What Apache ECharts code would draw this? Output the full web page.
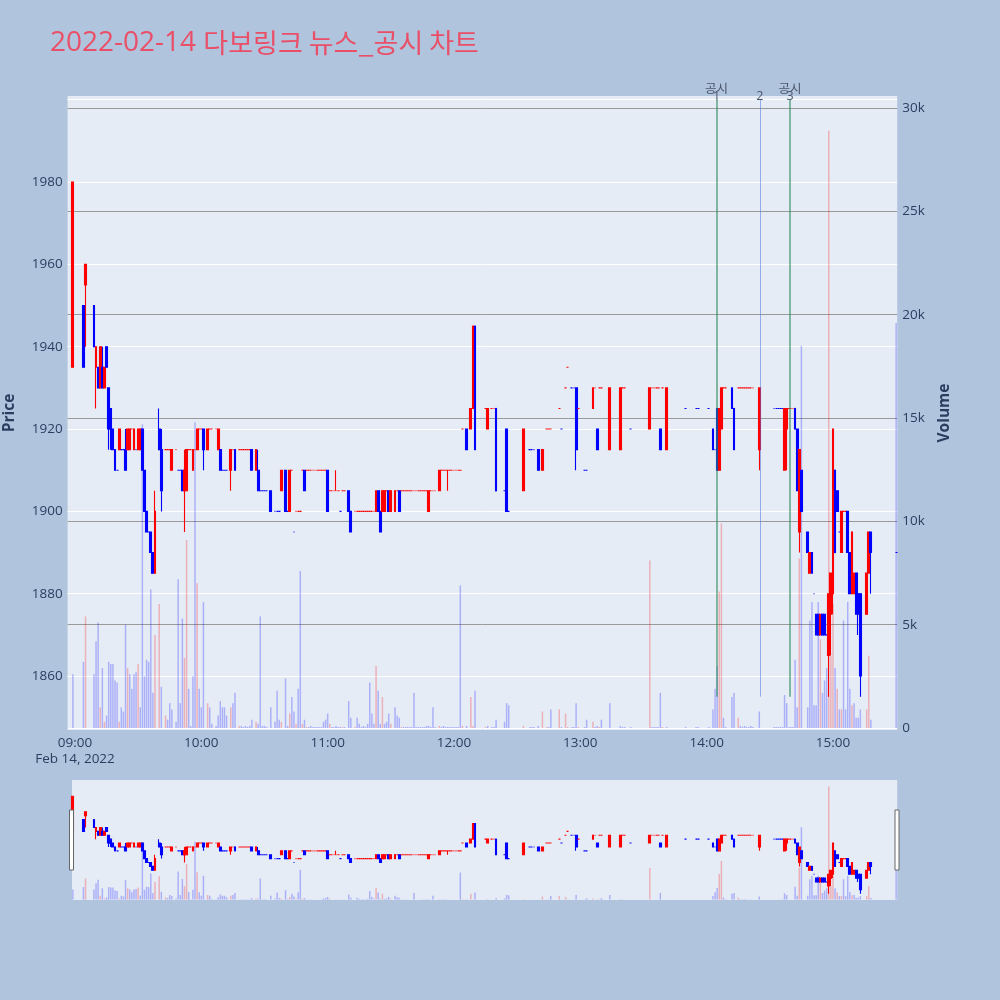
<!DOCTYPE html>
<html><head><meta charset="utf-8">
<script src="https://cdn.jsdelivr.net/npm/echarts@6/dist/echarts.min.js"></script>
<style>html,body{margin:0;padding:0;background:#B0C4DE;}#c{width:1000px;height:1000px;}</style>
</head><body><div id="c"></div>
<script>
// minutes after 09:00 for each 1-minute candle
const minuteAfterOpen = [
-1,4,5,9,10,11,12,13,14,15,
16,17,18,19,20,21,22,23,24,25,
26,27,28,29,30,31,32,33,34,35,
36,37,38,40,41,43,44,45,46,48,
49,50,51,52,53,54,55,56,57,58,
59,60,61,63,64,65,67,68,69,70,
71,72,74,75,76,78,79,80,81,82,
83,84,86,87,88,89,90,91,93,95,
96,97,98,100,101,102,103,104,105,106,
107,108,109,110,111,112,113,114,115,116,
117,118,119,120,121,122,123,124,125,126,
127,128,130,131,133,134,135,136,137,138,
139,140,141,142,143,144,145,146,147,148,
149,150,152,153,154,155,156,157,158,159,
160,161,162,163,164,165,166,167,168,169,
170,171,173,174,175,176,177,178,179,180,
181,182,183,184,186,188,189,190,195,196,
198,199,200,204,205,206,213,216,217,218,
220,222,224,225,226,230,231,233,234,236,
237,238,239,242,243,246,247,248,249,250,
254,259,260,261,264,273,274,275,276,277,
278,279,281,290,295,296,301,303,304,305,
306,307,308,309,312,313,315,316,317,318,
319,320,321,322,325,332,333,334,335,336,
337,338,339,340,341,342,343,344,345,348,
349,350,351,352,353,354,355,356,357,358,
359,360,361,362,363,364,365,366,367,368,
369,370,371,372,373,376,377,378,390];
const opens = [
1935,1950,1955,1950,1935,1935,1930,1935,1930,1940,
1930,1925,1920,1915,1910,1915,1915,1915,1915,1915,
1915,1920,1915,1915,1915,1915,1920,1910,1900,1895,
1895,1890,1885,1920,1915,1915,1915,1915,1910,1915,
1910,1910,1910,1905,1905,1915,1915,1910,1915,1915,
1920,1920,1920,1915,1920,1920,1920,1915,1915,1910,
1910,1910,1910,1915,1915,1915,1915,1915,1915,1915,
1915,1915,1910,1910,1905,1905,1905,1905,1905,1900,
1900,1900,1905,1910,1900,1900,1910,1895,1900,1900,
1900,1910,1910,1910,1910,1910,1910,1910,1910,1910,
1910,1910,1910,1910,1905,1905,1905,1905,1905,1900,
1905,1905,1905,1900,1900,1900,1900,1900,1900,1900,
1900,1900,1900,1900,1900,1905,1900,1900,1900,1905,
1905,1900,1900,1905,1905,1905,1905,1905,1905,1905,
1905,1905,1905,1905,1905,1905,1905,1905,1900,1905,
1905,1905,1905,1910,1910,1910,1910,1910,1910,1910,
1910,1910,1910,1920,1920,1920,1925,1945,1925,1920,
1925,1925,1925,1905,1920,1900,1905,1915,1915,1915,
1915,1910,1920,1920,1920,1925,1920,1930,1935,1930,
1930,1930,1925,1910,1910,1925,1930,1920,1930,1930,
1915,1915,1930,1930,1920,1920,1930,1930,1930,1930,
1920,1930,1915,1925,1925,1925,1925,1920,1915,1925,
1910,1920,1930,1930,1930,1925,1930,1930,1930,1930,
1930,1930,1930,1930,1915,1925,1925,1925,1925,1925,
1910,1920,1925,1925,1925,1925,1920,1895,1910,1895,
1885,1890,1880,1875,1875,1870,1875,1875,1870,1865,
1875,1880,1910,1905,1895,1890,1900,1900,1900,1890,
1880,1880,1885,1880,1880,1875,1885,1895,1890];
const highs = [
1980,1950,1960,1950,1940,1935,1940,1940,1935,1940,
1930,1925,1920,1915,1910,1920,1915,1915,1920,1920,
1920,1920,1920,1915,1920,1920,1920,1910,1900,1895,
1895,1890,1905,1925,1920,1915,1915,1915,1915,1915,
1910,1910,1910,1915,1915,1915,1915,1915,1915,1920,
1920,1920,1920,1920,1920,1920,1920,1920,1915,1910,
1910,1910,1915,1915,1915,1915,1915,1915,1915,1915,
1915,1915,1915,1915,1905,1905,1905,1905,1905,1900,
1900,1900,1910,1910,1900,1910,1910,1895,1900,1900,
1900,1910,1910,1910,1910,1910,1910,1910,1910,1910,
1910,1910,1910,1910,1905,1905,1905,1910,1905,1900,
1905,1905,1905,1900,1900,1900,1900,1900,1900,1900,
1900,1900,1900,1900,1905,1905,1900,1905,1905,1905,
1905,1905,1905,1905,1905,1905,1905,1905,1905,1905,
1905,1905,1905,1905,1905,1905,1905,1905,1905,1905,
1905,1905,1910,1910,1910,1910,1910,1910,1910,1910,
1910,1910,1910,1920,1920,1925,1945,1945,1925,1925,
1925,1925,1925,1905,1920,1900,1920,1915,1915,1915,
1915,1915,1920,1920,1920,1925,1920,1930,1935,1930,
1930,1930,1925,1910,1910,1930,1930,1920,1930,1930,
1930,1930,1930,1930,1920,1930,1930,1930,1930,1930,
1920,1930,1930,1925,1925,1925,1925,1920,1915,1925,
1925,1930,1930,1930,1930,1925,1930,1930,1930,1930,
1930,1930,1930,1930,1930,1925,1925,1925,1925,1925,
1925,1925,1925,1925,1925,1925,1920,1915,1910,1895,
1890,1890,1880,1875,1875,1875,1875,1875,1870,1880,
1885,1920,1910,1905,1895,1900,1900,1900,1900,1890,
1895,1885,1885,1880,1880,1885,1895,1895,1890];
const lows = [
1935,1935,1940,1940,1925,1930,1930,1930,1930,1935,
1915,1915,1915,1910,1910,1915,1915,1915,1910,1915,
1915,1920,1915,1915,1915,1915,1910,1900,1895,1895,
1890,1885,1885,1915,1900,1915,1915,1915,1910,1915,
1910,1910,1905,1895,1905,1915,1915,1910,1915,1915,
1920,1920,1910,1915,1920,1920,1920,1915,1910,1910,
1910,1910,1905,1915,1910,1915,1915,1915,1915,1915,
1915,1910,1910,1905,1905,1905,1905,1905,1900,1900,
1900,1900,1905,1900,1900,1900,1910,1895,1900,1900,
1900,1910,1905,1910,1910,1910,1910,1910,1910,1910,
1910,1910,1910,1900,1905,1905,1905,1905,1905,1900,
1905,1905,1900,1895,1900,1900,1900,1900,1900,1900,
1900,1900,1900,1900,1900,1900,1895,1900,1900,1905,
1900,1900,1900,1905,1900,1905,1905,1905,1905,1905,
1905,1905,1905,1905,1905,1905,1905,1905,1900,1905,
1905,1905,1905,1910,1910,1910,1905,1910,1910,1910,
1910,1910,1910,1920,1915,1920,1925,1915,1925,1920,
1925,1925,1905,1905,1900,1900,1905,1915,1915,1915,
1910,1910,1920,1920,1920,1925,1920,1930,1935,1930,
1930,1910,1925,1910,1910,1925,1930,1915,1930,1930,
1915,1915,1930,1930,1920,1920,1930,1930,1930,1930,
1915,1930,1915,1925,1925,1925,1925,1915,1915,1910,
1910,1920,1930,1930,1925,1915,1930,1930,1930,1930,
1930,1930,1930,1930,1910,1925,1925,1925,1925,1925,
1910,1910,1925,1925,1925,1920,1905,1890,1900,1890,
1885,1885,1880,1870,1870,1870,1870,1870,1870,1855,
1865,1875,1890,1900,1895,1890,1900,1900,1890,1880,
1880,1880,1875,1870,1855,1875,1885,1880,1890];
const closes = [
1980,1935,1960,1940,1940,1930,1940,1930,1935,1935,
1920,1920,1915,1910,1910,1920,1915,1915,1910,1920,
1920,1920,1920,1915,1920,1920,1910,1900,1895,1895,
1890,1885,1900,1915,1905,1915,1915,1915,1915,1915,
1910,1910,1905,1910,1915,1915,1915,1915,1915,1920,
1920,1920,1915,1920,1920,1920,1920,1920,1910,1910,
1910,1910,1915,1915,1910,1915,1915,1915,1915,1915,
1915,1910,1915,1905,1905,1905,1905,1905,1900,1900,
1900,1900,1910,1900,1900,1910,1910,1895,1900,1900,
1900,1910,1905,1910,1910,1910,1910,1910,1910,1910,
1910,1910,1910,1900,1905,1905,1905,1905,1905,1900,
1905,1905,1900,1895,1900,1900,1900,1900,1900,1900,
1900,1900,1900,1900,1905,1900,1895,1905,1905,1905,
1900,1905,1905,1905,1900,1905,1905,1905,1905,1905,
1905,1905,1905,1905,1905,1905,1905,1905,1905,1905,
1905,1905,1910,1910,1910,1910,1910,1910,1910,1910,
1910,1910,1910,1920,1915,1925,1945,1915,1925,1925,
1925,1925,1905,1905,1900,1900,1920,1915,1915,1915,
1910,1915,1920,1920,1920,1925,1920,1930,1935,1930,
1930,1915,1925,1910,1910,1930,1930,1915,1930,1930,
1930,1930,1930,1930,1920,1930,1930,1930,1930,1930,
1915,1930,1930,1925,1925,1925,1925,1915,1915,1910,
1925,1930,1930,1930,1925,1915,1930,1930,1930,1930,
1930,1930,1930,1930,1930,1925,1925,1925,1925,1925,
1925,1925,1925,1925,1925,1920,1905,1915,1900,1890,
1890,1885,1880,1870,1870,1875,1870,1870,1870,1880,
1885,1920,1890,1900,1895,1900,1900,1900,1890,1880,
1895,1885,1875,1875,1860,1885,1895,1890,1890];
const volumes = [
2600,3200,5400,2600,4200,5100,1000,2900,300,600,
3200,3100,3100,2300,2200,300,1000,800,5000,2900,
2600,1900,2600,2700,3100,1000,14700,2500,3300,3200,
6700,1700,4500,6000,2000,600,400,1200,900,300,
7200,1200,5300,3400,9100,1900,100,2500,14800,7000,
1900,1000,6100,1200,1000,200,100,600,1300,1000,
1000,600,1000,1200,1700,100,100,50,100,50,
100,400,300,200,5400,100,100,50,1000,300,
1800,400,300,2400,100,700,1500,800,200,1900,
7600,200,400,50,50,100,50,50,50,50,
50,300,400,700,200,50,50,100,50,50,
50,50,1300,500,50,500,200,50,100,50,
200,2200,700,200,3000,1800,200,1500,200,300,
700,200,1000,600,500,50,50,50,50,50,
50,1700,50,50,50,50,50,100,100,50,
1000,50,100,50,100,50,50,50,50,50,
50,50,6900,100,100,1500,100,1800,50,100,
50,50,400,300,1200,1100,100,50,50,50,
100,800,50,50,900,900,50,700,50,50,
50,1200,50,50,400,300,50,100,50,400,
1200,100,50,50,50,8100,50,50,50,50,
1700,50,50,50,50,50,50,900,1900,3000,
6600,9900,500,50,1500,1700,500,100,50,100,
50,50,100,50,800,50,50,50,50,50,
1600,1200,50,50,50,3300,1000,8200,18500,1000,
5200,6100,1100,1100,6100,4300,1700,2300,2900,28900,
3500,6000,2900,1900,900,900,5200,900,6100,1900,
1100,1200,500,500,900,900,3500,400,19600];

// news / disclosure events (vertical lines)
const eventTimes  = ['14:04:42', '14:25:18', '14:39:36'];
const eventKinds  = ['공시', '뉴스', '공시'];
const eventTitles = ['공시', '', '공시'];
const eventNumbers = ['1', '2', '3'];
const eventLineLow = 1855, eventLineHigh = 2000;

const hourTicks = [0, 60, 120, 180, 240, 300, 360];
const titleDate = '2022-02-14 ';
const titleName = '다보링크 뉴스_공시 차트';

const UP = '#ff0000', DOWN = '#0000ff';
const VOL_UP = 'rgba(255,0,0,0.25)', VOL_DOWN = 'rgba(0,0,255,0.25)';
const FONT = '"Open Sans", "Noto Sans CJK KR", sans-serif';
const TICK = '#2a3f5f';
const TICK_SIZE = 13.5;

function toMinutes(s) { const p = s.split(':').map(Number); return (p[0] - 9) * 60 + p[1] + (p[2] || 0) / 60; }
function hhmm(v) { const t = Math.round(v); const h = 9 + Math.floor(t / 60); const m = ((t % 60) + 60) % 60; return String(h).padStart(2, '0') + ':' + String(m).padStart(2, '0'); }

const candleData = [], volData = [];
let inc = true, prevC = null;
for (let i = 0; i < minuteAfterOpen.length; i++) {
  const o = opens[i], c = closes[i];
  if (c !== o) inc = c > o; else if (prevC !== null && c !== prevC) inc = c > prevC;
  const col = inc ? UP : DOWN;
  candleData.push({ value: [minuteAfterOpen[i], o, c, lows[i], highs[i]],
    itemStyle: { color: col, color0: col, borderColor: col, borderColor0: col } });
  const vUp = prevC !== null && c > prevC;
  volData.push({ value: [minuteAfterOpen[i], volumes[i]], itemStyle: { color: vUp ? VOL_UP : VOL_DOWN } });
  prevC = c;
}

const eventLines = eventTimes.map((t, i) => {
  const x = toMinutes(t);
  const green = eventKinds[i] === '공시';
  const txt = (eventTitles[i] ? '{t|' + eventTitles[i] + '}\n' : '') + '{n|' + eventNumbers[i] + '}';
  return [
    { coord: [x, eventLineLow], lineStyle: { color: green ? 'rgba(46,139,87,0.55)' : 'rgba(65,105,225,0.5)', width: green ? 2 : 1, type: 'solid' },
      label: { show: true, position: 'end', distance: -0.5, formatter: txt,
        rich: { t: { fontSize: 12.5, lineHeight: 7, color: '#4a5568', fontFamily: FONT }, n: { fontSize: 12.5, lineHeight: 7, color: '#4a5568', fontFamily: FONT } } } },
    { coord: [x, eventLineHigh] }
  ];
});

const X_MIN = -3.51, X_MAX = 390.5;
const P_MIN = 1846.9, P_MAX = 2000.9;
const V_MIN = -97, V_MAX = 30581;
// the range slider background starts a little right of the main plot; keep the same time scale
const SLIDER_LEFT = 72;
const SX_MIN = X_MIN + (SLIDER_LEFT - 67.6) * (X_MAX - X_MIN) / 829.6;

const chart = echarts.init(document.getElementById('c'), null, { renderer: 'canvas', width: 1000, height: 1000 });
const option = {
  animation: false,
  backgroundColor: '#B0C4DE',
  title: {
    left: 45, top: 24,
    text: '{a|' + titleDate + '}{b|' + titleName + '}',
    textStyle: { fontWeight: 'normal', rich: {
      a: { fontSize: 28, fontWeight: 'normal', fontFamily: '"Open Sans", sans-serif', color: '#EA4F68' },
      b: { fontSize: 27, fontWeight: 'normal', fontFamily: '"Noto Sans CJK KR", sans-serif', color: '#EA4F68' } } }
  },
  grid: [
    { left: 67.6, right: 102.8, top: 96, bottom: 270, show: true, backgroundColor: '#E5ECF6', borderWidth: 0, containLabel: false, outerBoundsMode: 'none' },
    { left: SLIDER_LEFT, right: 102.8, top: 780, height: 120, show: true, backgroundColor: '#E5ECF6', borderWidth: 0, containLabel: false, outerBoundsMode: 'none' }
  ],
  xAxis: [
    { type: 'value', gridIndex: 0, min: X_MIN, max: X_MAX,
      axisLine: { show: false }, axisTick: { show: false }, splitLine: { show: false },
      axisLabel: { customValues: hourTicks, color: TICK, fontSize: TICK_SIZE, fontFamily: FONT, margin: 5, lineHeight: 16,
        formatter: v => v === 0 ? hhmm(v) + '\nFeb 14, 2022' : hhmm(v) } },
    { type: 'value', gridIndex: 1, min: SX_MIN, max: X_MAX, show: false }
  ],
  yAxis: [
    { type: 'value', gridIndex: 0, position: 'left', min: P_MIN, max: P_MAX, splitNumber: 8,
      axisLine: { show: false }, axisTick: { show: false },
      splitLine: { show: true, showMinLine: false, showMaxLine: false, lineStyle: { color: '#ffffff', width: 1 } },
      axisLabel: { showMinLabel: false, showMaxLabel: false, color: TICK, fontSize: TICK_SIZE, fontFamily: FONT, margin: 5,
        formatter: v => (Math.abs(v % 20) < 1e-6 && v <= 1980) ? String(v) : '' } },
    { type: 'value', gridIndex: 0, position: 'right', min: V_MIN, max: V_MAX, splitNumber: 6,
      axisLine: { show: false }, axisTick: { show: false },
      splitLine: { show: true, showMinLine: false, showMaxLine: false, lineStyle: { color: '#9a9a9a', width: 1 } },
      axisLabel: { showMinLabel: false, showMaxLabel: false, color: TICK, fontSize: TICK_SIZE, fontFamily: FONT, margin: 5,
        formatter: v => v === 0 ? '0' : (Math.abs(v % 5000) < 1e-6 ? (v / 1000) + 'k' : '') } },
    { type: 'value', gridIndex: 1, min: P_MIN, max: P_MAX, show: false, splitLine: { show: false } },
    { type: 'value', gridIndex: 1, min: V_MIN, max: V_MAX, show: false, splitLine: { show: false } }
  ],
  graphic: [
    { type: 'text', x: 10, y: 413, rotation: Math.PI / 2, style: { text: 'Price', align: 'center', verticalAlign: 'middle', font: 'bold 15.5px "Open Sans", sans-serif', fill: TICK } },
    { type: 'text', x: 945, y: 413, rotation: Math.PI / 2, style: { text: 'Volume', align: 'center', verticalAlign: 'middle', font: 'bold 15.5px "Open Sans", sans-serif', fill: TICK } },
    { type: 'rect', shape: { x: 69.5, y: 810, width: 4, height: 60 }, style: { fill: '#ffffff', stroke: '#666', lineWidth: 1 }, z: 100 },
    { type: 'rect', shape: { x: 895, y: 810, width: 4, height: 60 }, style: { fill: '#ffffff', stroke: '#666', lineWidth: 1 }, z: 100 }
  ],
  series: [
    { type: 'bar', name: 'vol', xAxisIndex: 0, yAxisIndex: 1, data: volData, barWidth: 1.5, z: 1, silent: true,
      markLine: { silent: true, symbol: ['none', 'none'], label: { show: false }, lineStyle: { color: '#ffffff', width: 1, type: 'solid' }, data: [{ yAxis: 0 }] } },
    { type: 'candlestick', name: 'price', xAxisIndex: 0, yAxisIndex: 0, data: candleData, barWidth: 2.3, z: 3, silent: true,
      itemStyle: { borderWidth: 1.1 },
      markLine: { silent: true, symbol: ['none', 'none'], data: eventLines } },
    { type: 'bar', xAxisIndex: 1, yAxisIndex: 3, data: volData, barWidth: 1.5, z: 1, silent: true },
    { type: 'candlestick', xAxisIndex: 1, yAxisIndex: 2, data: candleData, barWidth: 2.3, z: 3, silent: true, itemStyle: { borderWidth: 1.1 } }
  ]
};
chart.setOption(option);
</script></body></html>
